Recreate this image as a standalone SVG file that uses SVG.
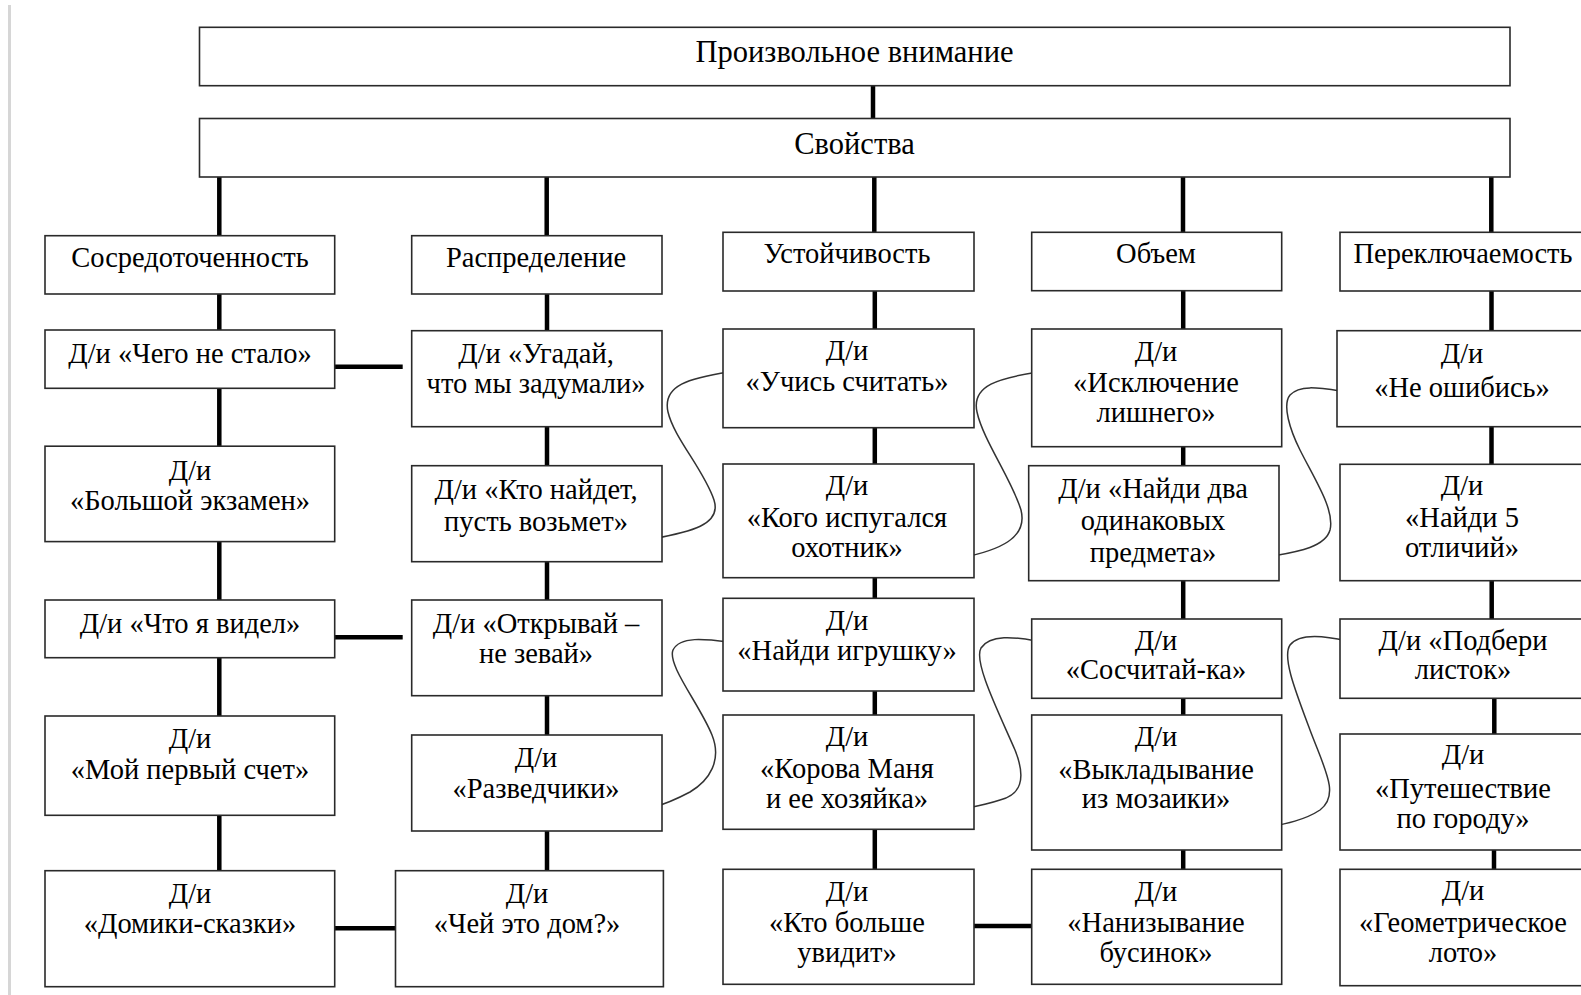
<svg xmlns="http://www.w3.org/2000/svg" width="1581" height="995" viewBox="0 0 1581 995">
<style>
.box{fill:#fff;stroke:#2a2a2a;stroke-width:1.6}
.t{font-family:"Liberation Serif","Times New Roman",serif;font-size:28.5px;fill:#000;text-anchor:middle}
.h{font-size:30.5px}
.c{stroke:#000;stroke-width:4.5;fill:none}
.s{stroke:#333;stroke-width:1.5;fill:none}
</style>
<rect x="0" y="0" width="1581" height="995" fill="#fff"/>
<rect x="8" y="5" width="3" height="990" fill="#d6d6d6"/>

<g id="connectors">
<line class="c" x1="873" y1="85.7" x2="873" y2="118.5"/>
<line class="c" x1="219.3" y1="177" x2="219.3" y2="235.7"/>
<line class="c" x1="546.7" y1="177" x2="546.7" y2="235.7"/>
<line class="c" x1="874.3" y1="177" x2="874.3" y2="232.3"/>
<line class="c" x1="1183" y1="177" x2="1183" y2="232.3"/>
<line class="c" x1="1491.3" y1="177" x2="1491.3" y2="232.3"/>
<!-- col1 -->
<line class="c" x1="219.3" y1="294" x2="219.3" y2="330"/>
<line class="c" x1="219.3" y1="388.3" x2="219.3" y2="446.2"/>
<line class="c" x1="219.3" y1="541.6" x2="219.3" y2="600"/>
<line class="c" x1="219.3" y1="657.7" x2="219.3" y2="716"/>
<line class="c" x1="219.3" y1="815.3" x2="219.3" y2="870.7"/>
<!-- col2 -->
<line class="c" x1="547" y1="294" x2="547" y2="330.7"/>
<line class="c" x1="547" y1="426.7" x2="547" y2="465.7"/>
<line class="c" x1="547" y1="561.7" x2="547" y2="600"/>
<line class="c" x1="547" y1="695.7" x2="547" y2="735"/>
<line class="c" x1="547" y1="831" x2="547" y2="870.7"/>
<!-- col3 -->
<line class="c" x1="874.8" y1="291" x2="874.8" y2="329"/>
<line class="c" x1="874.8" y1="427.7" x2="874.8" y2="464"/>
<line class="c" x1="874.8" y1="577.7" x2="874.8" y2="598.3"/>
<line class="c" x1="874.8" y1="691" x2="874.8" y2="715"/>
<line class="c" x1="874.8" y1="829.3" x2="874.8" y2="869.3"/>
<!-- col4 -->
<line class="c" x1="1183.2" y1="290.7" x2="1183.2" y2="329"/>
<line class="c" x1="1183.2" y1="446.7" x2="1183.2" y2="465.7"/>
<line class="c" x1="1183.2" y1="580.7" x2="1183.2" y2="619"/>
<line class="c" x1="1183.2" y1="698.3" x2="1183.2" y2="715"/>
<line class="c" x1="1183.2" y1="850" x2="1183.2" y2="869.3"/>
<!-- col5 -->
<line class="c" x1="1491.5" y1="291" x2="1491.5" y2="330.7"/>
<line class="c" x1="1491.5" y1="426.7" x2="1491.5" y2="464.3"/>
<line class="c" x1="1491.7" y1="580.7" x2="1491.7" y2="619"/>
<line class="c" x1="1494.3" y1="695" x2="1494.3" y2="734"/>
<line class="c" x1="1494" y1="848" x2="1494" y2="869.3"/>
<!-- horizontals -->
<line class="c" x1="326" y1="366.7" x2="402.7" y2="366.7"/>
<line class="c" x1="326" y1="637.3" x2="402.7" y2="637.3"/>
<line class="c" x1="334.8" y1="928.3" x2="395.5" y2="928.3"/>
<line class="c" x1="973" y1="926" x2="1031.5" y2="926"/>
<!-- curves -->
<path class="s" d="M 729 372 C 690 378, 662 385, 668 412 C 674 438, 704 470, 714 500 C 722 525, 690 532, 652 539"/>
<path class="s" d="M 1038 372 C 1000 378, 971 385, 977 412 C 983 440, 1012 480, 1021 510 C 1028 538, 1000 550, 961 558"/>
<path class="s" d="M 1347 392 C 1320 388, 1300 384, 1290 395 C 1282 405, 1290 430, 1300 450 C 1315 480, 1335 510, 1330 530 C 1325 548, 1295 552, 1268 557"/>
<path class="s" d="M 729 642 C 705 639, 680 636, 673 650 C 667 665, 700 705, 712 735 C 722 760, 710 780, 690 792 C 675 800, 662 805, 651 808"/>
<path class="s" d="M 1036 641 C 1015 637, 990 634, 981 648 C 973 662, 1000 715, 1015 750 C 1027 780, 1020 795, 1000 800 C 985 805, 972 807, 962 809"/>
<path class="s" d="M 1347 641 C 1330 637, 1300 632, 1290 645 C 1282 657, 1295 690, 1310 730 C 1325 770, 1340 795, 1320 810 C 1305 820, 1285 824, 1269 827"/>
</g>

<g id="n-root"><rect class="box" x="199.5" y="27.3" width="1310.5" height="58.4"/><text class="t h" x="854.5" y="62">Произвольное внимание</text></g>
<g id="n-props"><rect class="box" x="199.5" y="118.5" width="1310.5" height="58.5"/><text class="t h" x="854.5" y="153.5">Свойства</text></g>

<g id="n-sosr"><rect class="box" x="45" y="235.7" width="289.7" height="58.3"/><text class="t" x="190" y="266.5">Сосредоточенность</text></g>
<g id="n-raspr"><rect class="box" x="411.7" y="235.7" width="250.3" height="58.3"/><text class="t" x="536" y="266.5">Распределение</text></g>
<g id="n-ustoy"><rect class="box" x="723" y="232.3" width="251" height="58.7"/><text class="t" x="847" y="262.5">Устойчивость</text></g>
<g id="n-obem"><rect class="box" x="1031.7" y="232.3" width="250" height="58.4"/><text class="t" x="1156" y="262.5">Объем</text></g>
<g id="n-perekl"><rect class="box" x="1340" y="232.3" width="260" height="58.7"/><text class="t" x="1463" y="262.5">Переключаемость</text></g>

<!-- row 2 -->
<g id="n-chego"><rect class="box" x="45" y="330" width="289.7" height="58.3"/><text class="t" x="190" y="363">Д/и «Чего не стало»</text></g>
<g id="n-ugaday"><rect class="box" x="411.7" y="330.7" width="250.3" height="96"/><text class="t" x="536" y="363">Д/и «Угадай,</text><text class="t" x="536" y="393">что мы задумали»</text></g>
<g id="n-uchis"><rect class="box" x="723" y="329" width="251" height="98.7"/><text class="t" x="847" y="360">Д/и</text><text class="t" x="847" y="391">«Учись считать»</text></g>
<g id="n-isklyuch"><rect class="box" x="1031.7" y="329" width="250" height="117.7"/><text class="t" x="1156" y="361">Д/и</text><text class="t" x="1156" y="392">«Исключение</text><text class="t" x="1156" y="422">лишнего»</text></g>
<g id="n-neoshib"><rect class="box" x="1337" y="330.7" width="260" height="96"/><text class="t" x="1462" y="363">Д/и</text><text class="t" x="1462" y="397">«Не ошибись»</text></g>

<!-- row 3 -->
<g id="n-bolshoy"><rect class="box" x="45" y="446.2" width="289.7" height="95.4"/><text class="t" x="190" y="480">Д/и</text><text class="t" x="190" y="510">«Большой экзамен»</text></g>
<g id="n-ktonaydet"><rect class="box" x="411.7" y="465.7" width="250.3" height="96"/><text class="t" x="536" y="499">Д/и «Кто найдет,</text><text class="t" x="536" y="531">пусть возьмет»</text></g>
<g id="n-kogo"><rect class="box" x="723" y="464" width="251" height="113.7"/><text class="t" x="847" y="495">Д/и</text><text class="t" x="847" y="527">«Кого испугался</text><text class="t" x="847" y="557">охотник»</text></g>
<g id="n-naydidva"><rect class="box" x="1028.7" y="465.7" width="250.3" height="115"/><text class="t" x="1153" y="498">Д/и «Найди два</text><text class="t" x="1153" y="530">одинаковых</text><text class="t" x="1153" y="562">предмета»</text></g>
<g id="n-naydi5"><rect class="box" x="1340" y="464.3" width="260" height="116.4"/><text class="t" x="1462" y="495">Д/и</text><text class="t" x="1462" y="527">«Найди 5</text><text class="t" x="1462" y="557">отличий»</text></g>

<!-- row 4 -->
<g id="n-chtoya"><rect class="box" x="45" y="600" width="289.7" height="57.7"/><text class="t" x="190" y="633">Д/и «Что я видел»</text></g>
<g id="n-otkryvay"><rect class="box" x="411.7" y="600" width="250.3" height="95.7"/><text class="t" x="536" y="633">Д/и «Открывай –</text><text class="t" x="536" y="663">не зевай»</text></g>
<g id="n-igrushku"><rect class="box" x="723" y="598.3" width="251" height="92.7"/><text class="t" x="847" y="630">Д/и</text><text class="t" x="847" y="660">«Найди игрушку»</text></g>
<g id="n-soschitay"><rect class="box" x="1031.7" y="619" width="250" height="79.3"/><text class="t" x="1156" y="650">Д/и</text><text class="t" x="1156" y="679">«Сосчитай-ка»</text></g>
<g id="n-podberi"><rect class="box" x="1340" y="619" width="260" height="79.3"/><text class="t" x="1463" y="650">Д/и «Подбери</text><text class="t" x="1463" y="679">листок»</text></g>

<!-- row 5 -->
<g id="n-moy"><rect class="box" x="45" y="716" width="289.7" height="99.3"/><text class="t" x="190" y="748">Д/и</text><text class="t" x="190" y="779">«Мой первый счет»</text></g>
<g id="n-razved"><rect class="box" x="411.7" y="735" width="250.3" height="96"/><text class="t" x="536" y="767">Д/и</text><text class="t" x="536" y="798">«Разведчики»</text></g>
<g id="n-korova"><rect class="box" x="723" y="715" width="251" height="114.3"/><text class="t" x="847" y="746">Д/и</text><text class="t" x="847" y="778">«Корова Маня</text><text class="t" x="847" y="808">и ее хозяйка»</text></g>
<g id="n-vyklad"><rect class="box" x="1031.7" y="715" width="250" height="135"/><text class="t" x="1156" y="746">Д/и</text><text class="t" x="1156" y="779">«Выкладывание</text><text class="t" x="1156" y="808">из мозаики»</text></g>
<g id="n-puteshest"><rect class="box" x="1340" y="734" width="260" height="116"/><text class="t" x="1463" y="764">Д/и</text><text class="t" x="1463" y="798">«Путешествие</text><text class="t" x="1463" y="828">по городу»</text></g>

<!-- row 6 -->
<g id="n-domiki"><rect class="box" x="45" y="870.7" width="289.7" height="116"/><text class="t" x="190" y="903">Д/и</text><text class="t" x="190" y="933">«Домики-сказки»</text></g>
<g id="n-chey"><rect class="box" x="395.5" y="870.7" width="267.9" height="116"/><text class="t" x="527" y="903">Д/и</text><text class="t" x="527" y="933">«Чей это дом?»</text></g>
<g id="n-ktobolshe"><rect class="box" x="723" y="869.3" width="251" height="115"/><text class="t" x="847" y="901">Д/и</text><text class="t" x="847" y="932">«Кто больше</text><text class="t" x="847" y="962">увидит»</text></g>
<g id="n-naniz"><rect class="box" x="1031.7" y="869.3" width="250" height="115"/><text class="t" x="1156" y="901">Д/и</text><text class="t" x="1156" y="932">«Нанизывание</text><text class="t" x="1156" y="962">бусинок»</text></g>
<g id="n-geom"><rect class="box" x="1340" y="869.3" width="260" height="116.4"/><text class="t" x="1463" y="900">Д/и</text><text class="t" x="1463" y="932">«Геометрическое</text><text class="t" x="1463" y="962">лото»</text></g>
</svg>
